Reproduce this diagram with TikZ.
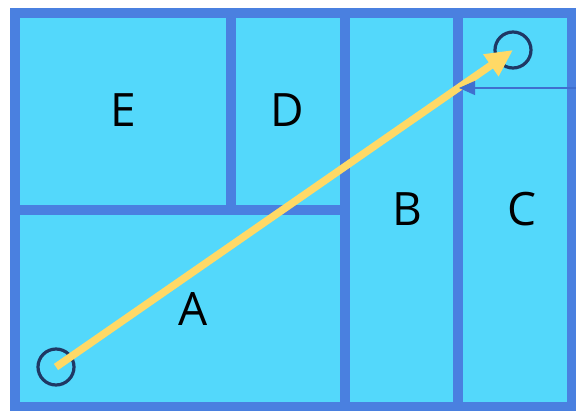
\documentclass[tikz,border=0pt]{standalone}
\usepackage{fontspec}
\setmainfont{Open Sans}
\usetikzlibrary{arrows.meta,positioning}
\definecolor{framebl}{HTML}{4A80E0}
\definecolor{cellcy}{HTML}{53D8FB}
\definecolor{pathyl}{HTML}{FFD966}
\definecolor{ringnv}{HTML}{1F3864}
\definecolor{thinbl}{HTML}{3F6FCF}

\begin{document}
\begin{tikzpicture}[x=1pt,y=-1pt,
	lbl/.style={font=\fontsize{46}{50}\selectfont,text=black},
	ring/.style={circle,draw=ringnv,line width=3.2pt,minimum size=36pt,inner sep=0pt},
	wall/.style={framebl,line width=10pt}]
		
		\useasboundingbox (0,0) rectangle (576,410);
		
		% cells and walls
		\fill[cellcy] (15,13) rectangle (571.5,406.5);
		\draw[wall] (231,13)--(231,210);
		\draw[wall] (15,210)--(344.5,210);
		\draw[wall] (344.5,13)--(344.5,406.5);
		\draw[wall] (458,13)--(458,406.5);
		\draw[wall] (15,13) rectangle (571.5,406.5);
		
		\node[lbl] (E) at (123,110) {E};
		\node[lbl] (D) at (287,110) {D};
		\node[lbl] (B) at (407,209) {B};
		\node[lbl] (C) at (522,209) {C};
		\node[lbl] (A) at (193,309) {A};
		
		\node[ring] (S) at (56,367) {};
		\node[ring] (T) at (513,50) {};
		
		\draw[pathyl,line width=7.5pt,-{Triangle[length=27pt,width=25pt]}]
		(S.center)--(T.center);
		
		\coordinate (R) at (576,88);
		\coordinate (L) at (459,88);
		\draw[thinbl,line width=1.2pt,-{Triangle[length=16pt,width=14pt]}]
		(R)--(L);
		
	\end{tikzpicture}
\end{document}
